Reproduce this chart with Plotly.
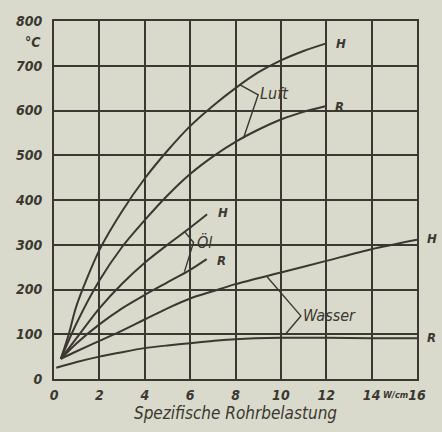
import plotly.graph_objects as go

# ---- data ----
luft_h_x = [0.3, 0.65, 1, 2, 3, 4, 5, 6, 7, 8, 9, 10, 11, 12]
luft_h_y = [45, 100, 165, 288, 375, 448, 510, 565, 610, 650, 685, 712, 733, 750]

luft_r_x = [0.3, 1, 2, 3, 4, 5, 6, 7, 8, 9, 10, 11, 12]
luft_r_y = [45, 125, 220, 295, 355, 410, 458, 497, 530, 557, 580, 597, 610]

oel_h_x = [0.3, 1, 2, 3, 4, 5, 6, 6.75]
oel_h_y = [45, 92, 158, 213, 260, 300, 338, 368]

oel_r_x = [0.3, 1, 2, 3, 4, 5, 6, 6.73]
oel_r_y = [45, 80, 122, 158, 188, 216, 244, 268]

wasser_h_x = [0.3, 1, 2, 3, 4, 5, 6, 7, 8, 10, 12, 14, 16]
wasser_h_y = [45, 62, 85, 108, 133, 158, 180, 196, 212, 238, 264, 290, 311]

wasser_r_x = [0.1, 1, 2, 3, 4, 5, 6, 7, 8, 10, 12, 14, 16]
wasser_r_y = [25, 38, 50, 60, 69, 75, 80, 85, 89, 92, 92, 91, 91]

x_ticks = [0, 2, 4, 6, 8, 10, 12, 14, 16]
x_tick_labels = ["0", "2", "4", "6", "8", "10", "12", "14", "16"]
y_ticks = [0, 100, 200, 300, 400, 500, 600, 700, 800]

BG = "#d9dacb"
INK = "#3b3731"
FONT = "DejaVu Sans Condensed, DejaVu Sans, Liberation Sans, sans-serif"

fig = go.Figure()
series = [
    (luft_h_x, luft_h_y, "Luft H"),
    (luft_r_x, luft_r_y, "Luft R"),
    (oel_h_x, oel_h_y, "Öl H"),
    (oel_r_x, oel_r_y, "Öl R"),
    (wasser_h_x, wasser_h_y, "Wasser H"),
    (wasser_r_x, wasser_r_y, "Wasser R"),
]
for xs, ys, name in series:
    fig.add_trace(go.Scatter(x=xs, y=ys, mode="lines", name=name,
                             line=dict(color=INK, width=2, shape="spline", smoothing=0.8),
                             hoverinfo="skip", showlegend=False, cliponaxis=False))

# leader (bracket) lines
leaders = [
    [(8.2, 657), (9.0, 635), (8.35, 538)],      # Luft
    [(5.75, 330), (6.15, 305), (5.75, 240)],    # Öl
    [(9.4, 228), (10.88, 141), (10.2, 100)],    # Wasser
]
for pts in leaders:
    path = "M " + " L ".join(f"{x},{y}" for x, y in pts)
    fig.add_shape(type="path", path=path, xref="x", yref="y",
                  line=dict(color=INK, width=1.4))

def lab(x, y, text, size=13, xanchor="left", xref="x", yref="y", weight="normal"):
    fig.add_annotation(x=x, y=y, xref=xref, yref=yref, text=text, showarrow=False,
                       xanchor=xanchor, yanchor="middle",
                       font=dict(family=FONT, size=size, color=INK, style="italic", weight=weight))

lab(12.35, 750, "H", 13, weight="bold")
lab(12.3, 608, "R", 13, weight="bold")
lab(9.0, 638, "Luft", 16)
lab(7.15, 371, "H", 13, weight="bold")
lab(7.1, 265, "R", 13, weight="bold")
lab(6.2, 305, "Öl", 16)
lab(10.9, 141, "Wasser", 16)
# right of the plot (paper coordinates so they are not hidden)
lab(1.022, 313 / 800, "H", 13, xref="paper", yref="paper", weight="bold")
lab(1.022, 92 / 800, "R", 13, xref="paper", yref="paper", weight="bold")
lab(0.94, -0.044, "W/cm", 9, xanchor="center", xref="paper", yref="paper", weight="bold")
# °C unit under 800
fig.add_annotation(x=-0.03, y=752, xref="paper", yref="y", text="°C", showarrow=False,
                   xanchor="right", yanchor="middle",
                   font=dict(family=FONT, size=14, color=INK, style="italic", weight="bold"))

tickfont = dict(family=FONT, size=14, color=INK, style="italic", weight="bold")
fig.update_xaxes(range=[0, 16], tickvals=x_ticks, ticktext=x_tick_labels,
                 showgrid=True, gridcolor=INK, gridwidth=2,
                 showline=True, linecolor=INK, linewidth=2, mirror=True,
                 zeroline=False, ticks="", tickfont=tickfont, ticklabelstandoff=2,
                 title=dict(text="Spezifische Rohrbelastung", standoff=4,
                            font=dict(family=FONT, size=17, color=INK, style="italic")))
fig.update_yaxes(range=[0, 800], tickvals=y_ticks,
                 showgrid=True, gridcolor=INK, gridwidth=2,
                 showline=True, linecolor=INK, linewidth=2, mirror=True,
                 zeroline=False, ticks="", tickfont=tickfont, ticklabelstandoff=7)

fig.update_layout(width=442, height=432,
                  margin=dict(l=54, r=25, t=21, b=53),
                  paper_bgcolor=BG, plot_bgcolor=BG,
                  showlegend=False)

fig.write_html("out.html", config={"displayModeBar": False},
               post_script="document.body.style.margin='0';document.body.style.background='%s';" % BG)
